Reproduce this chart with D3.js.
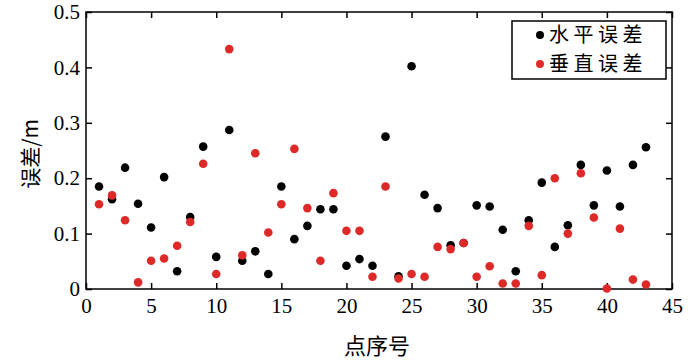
<!DOCTYPE html>
<html>
<head>
<meta charset="utf-8">
<script src="https://cdn.jsdelivr.net/npm/d3@7"></script>
<style>
  body { margin: 0; background: #fff; }
  svg { display: block; }
</style>
</head>
<body>
<svg id="chart"></svg>
<script>
// point index 1..43
const pointIds = d3.range(1, 44);

// 水平误差 (m)
const horizErr = [
  0.185, 0.162, 0.219, 0.154, 0.111, 0.202, 0.032, 0.130, 0.257, 0.058,
  0.287, 0.051, 0.068, 0.027, 0.185, 0.090, 0.114, 0.144, 0.144, 0.042,
  0.054, 0.042, 0.275, 0.023, 0.402, 0.170, 0.146, 0.079, 0.083, 0.151,
  0.149, 0.107, 0.032, 0.124, 0.192, 0.076, 0.115, 0.224, 0.151, 0.214,
  0.149, 0.224, 0.256
];

// 垂直误差 (m)
const vertErr = [
  0.153, 0.169, 0.124, 0.012, 0.051, 0.055, 0.078, 0.121, 0.226, 0.027,
  0.433, 0.061, 0.245, 0.102, 0.153, 0.253, 0.146, 0.051, 0.173, 0.105,
  0.105, 0.022, 0.185, 0.019, 0.027, 0.022, 0.076, 0.072, 0.083, 0.022,
  0.041, 0.010, 0.010, 0.114, 0.025, 0.200, 0.100, 0.209, 0.129, 0.001,
  0.109, 0.017, 0.008
];

const xTicks = [0, 5, 10, 15, 20, 25, 30, 35, 40, 45];
const yTicks = [0, 0.1, 0.2, 0.3, 0.4, 0.5];
const yTickLabels = ["0", "0.1", "0.2", "0.3", "0.4", "0.5"];
const seriesNames = ["水平误差", "垂直误差"];
const seriesColors = ["#000000", "#dd2a28"];

const width = 700, height = 361;
const margin = {left: 86, right: 28, top: 12, bottom: 72};

const numFont = "'Liberation Serif', 'Times New Roman', serif";
const cjkFont = "'Noto Sans CJK SC', sans-serif";

const svg = d3.select("#chart").attr("width", width).attr("height", height);

const x = d3.scaleLinear().domain([0, 45]).range([margin.left, width - margin.right]);
const y = d3.scaleLinear().domain([0, 0.5]).range([height - margin.bottom, margin.top]);

// frame
svg.append("rect")
  .attr("x", x(0)).attr("y", y(0.5))
  .attr("width", x(45) - x(0)).attr("height", y(0) - y(0.5))
  .attr("fill", "none").attr("stroke", "#000").attr("stroke-width", 1.5);

// inward ticks on all four sides
const tickLen = 6;
const gx = svg.append("g").attr("transform", `translate(0,${y(0)})`)
  .call(d3.axisBottom(x).tickValues(xTicks).tickSizeInner(-tickLen).tickSizeOuter(0).tickPadding(9));
gx.select(".domain").remove();
gx.selectAll("line").attr("stroke-width", 1.5);
gx.selectAll("text")
  .style("font-family", numFont).style("font-size", "21px").attr("fill", "#000");

const gy = svg.append("g").attr("transform", `translate(${x(0)},0)`)
  .call(d3.axisLeft(y).tickValues(yTicks).tickFormat((d, i) => yTickLabels[i])
    .tickSizeInner(-tickLen).tickSizeOuter(0).tickPadding(6));
gy.select(".domain").remove();
gy.selectAll("line").attr("stroke-width", 1.5);
gy.selectAll("text")
  .style("font-family", numFont).style("font-size", "21px").attr("fill", "#000");

const gt = svg.append("g").attr("transform", `translate(0,${y(0.5)})`)
  .call(d3.axisTop(x).tickValues(xTicks).tickSizeInner(-tickLen).tickSizeOuter(0).tickFormat(""));
gt.select(".domain").remove();
gt.selectAll("line").attr("stroke-width", 1.5);

const gr = svg.append("g").attr("transform", `translate(${x(45)},0)`)
  .call(d3.axisRight(y).tickValues(yTicks).tickSizeInner(-tickLen).tickSizeOuter(0).tickFormat(""));
gr.select(".domain").remove();
gr.selectAll("line").attr("stroke-width", 1.5);

// points
const series = [horizErr, vertErr];
series.forEach((vals, s) => {
  svg.append("g").selectAll("circle")
    .data(vals)
    .join("circle")
    .attr("cx", (d, i) => x(pointIds[i]))
    .attr("cy", d => y(d))
    .attr("r", 4.3)
    .attr("fill", seriesColors[s]);
});

// axis titles
svg.append("text")
  .attr("x", (x(0) + x(45)) / 2 - 2).attr("y", 354)
  .attr("text-anchor", "middle")
  .style("font-family", cjkFont).style("font-size", "22px")
  .text("点序号");

svg.append("text")
  .attr("transform", `translate(38,154) rotate(-90)`)
  .attr("text-anchor", "middle")
  .style("font-family", cjkFont).style("font-size", "21px")
  .text("误差/m");

// legend
const legend = svg.append("g");
legend.append("rect")
  .attr("x", 512).attr("y", 21).attr("width", 154).attr("height", 58)
  .attr("fill", "#fff").attr("stroke", "#000").attr("stroke-width", 1.5);
seriesNames.forEach((name, i) => {
  const cy = 35 + i * 29;
  legend.append("circle").attr("cx", 540).attr("cy", cy).attr("r", 4).attr("fill", seriesColors[i]);
  legend.append("text")
    .attr("x", 549).attr("y", cy).attr("dy", "0.36em")
    .style("font-family", cjkFont).style("font-size", "20px").style("letter-spacing", "4.5px")
    .text(name);
});
</script>
</body>
</html>
